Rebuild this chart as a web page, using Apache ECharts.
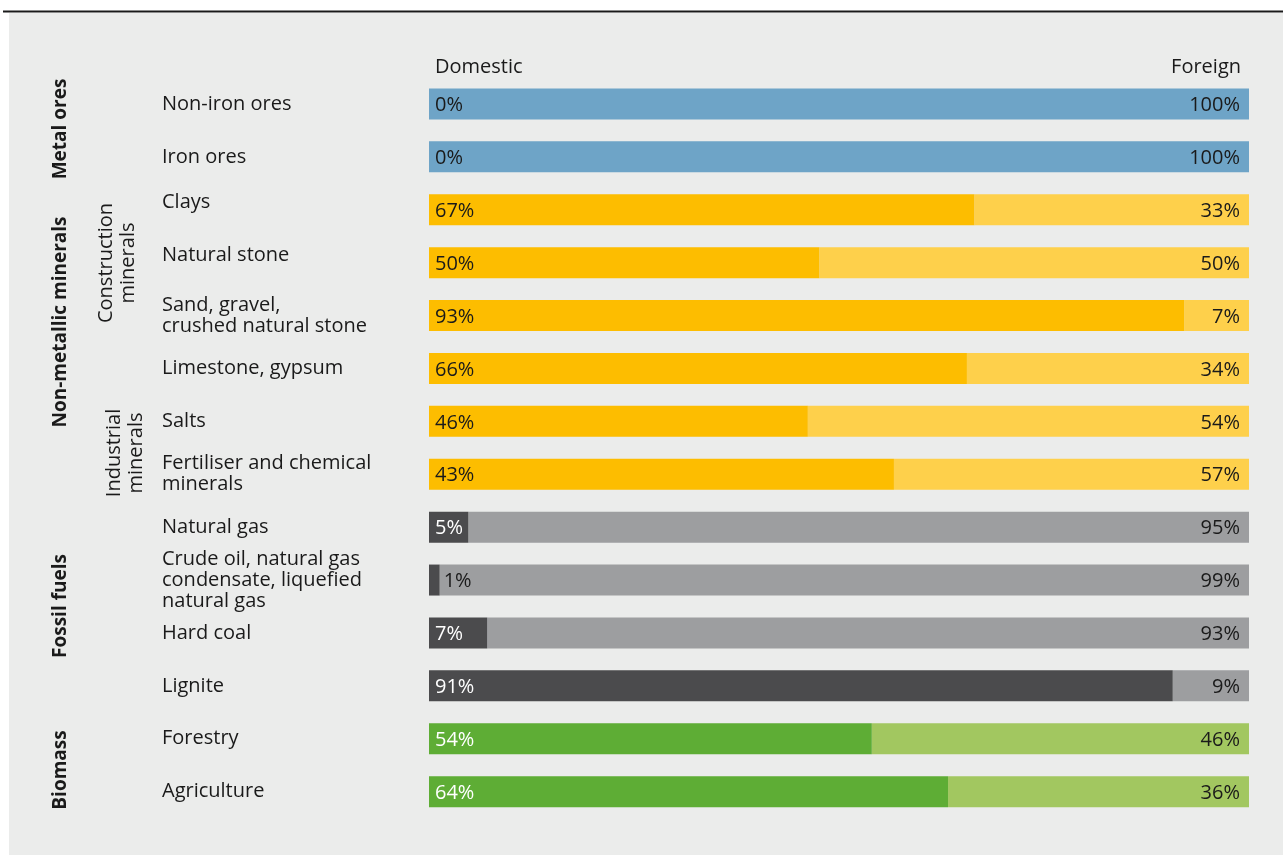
<!DOCTYPE html>
<html>
<head>
<meta charset="utf-8">
<script src="https://cdn.jsdelivr.net/npm/echarts@6/dist/echarts.min.js"></script>
<style>
html,body{margin:0;padding:0;background:#ffffff;}
#chart{width:1283px;height:856px;}
</style>
</head>
<body>
<div id="chart"></div>
<script>
// ---- data ----
var categories = [
  'Non-iron ores',
  'Iron ores',
  'Clays',
  'Natural stone',
  'Sand, gravel,\ncrushed natural stone',
  'Limestone, gypsum',
  'Salts',
  'Fertiliser and chemical\nminerals',
  'Natural gas',
  'Crude oil, natural gas\ncondensate, liquefied\nnatural gas',
  'Hard coal',
  'Lignite',
  'Forestry',
  'Agriculture'
];
var raisedLabels = ['Clays', 'Natural stone'];
var groupOf = ['metal','metal','mineral','mineral','mineral','mineral','mineral','mineral','fossil','fossil','fossil','fossil','biomass','biomass'];
// bar lengths as drawn in the picture (domestic share, %)
var domesticBar = [0, 0, 66.5, 47.6, 92.1, 65.6, 46.2, 56.7, 4.8, 1.3, 7.1, 90.7, 54.0, 63.3];
// printed labels
var domesticLabel = [0, 0, 67, 50, 93, 66, 46, 43, 5, 1, 7, 91, 54, 64];
var foreignLabel = [100, 100, 33, 50, 7, 34, 54, 57, 95, 99, 93, 9, 46, 36];
var headerLeft = 'Domestic';
var headerRight = 'Foreign';
var groupLabels = ['Metal ores', 'Non-metallic minerals', 'Fossil fuels', 'Biomass'];
var subGroupLabels = ['Construction\nminerals', 'Industrial\nminerals'];

// ---- styles ----
var palette = {
  metal:   {dom: '#6EA4C7', for: '#6EA4C7', domText: '#1a1a1a'},
  mineral: {dom: '#FDBD00', for: '#FED04B', domText: '#1a1a1a'},
  fossil:  {dom: '#4B4B4D', for: '#9D9EA0', domText: '#ffffff'},
  biomass: {dom: '#5EAD35', for: '#A2C760', domText: '#ffffff'}
};
var FONT = '"Open Sans", "Noto Sans", sans-serif';
var TXT = '#1a1a1a';

var domData = domesticBar.map(function (v, i) {
  var p = palette[groupOf[i]];
  var item = {
    value: v,
    itemStyle: {color: p.dom},
    label: {color: p.domText}
  };
  if (domesticLabel[i] === 1) {
    item.label = {position: 'right', distance: 4, color: TXT};
  }
  return item;
});
var forData = domesticBar.map(function (v, i) {
  var p = palette[groupOf[i]];
  return {value: 100 - v, itemStyle: {color: p.for}};
});

var chart = echarts.init(document.getElementById('chart'), null, {renderer: 'canvas'});

var option = {
  animation: false,
  backgroundColor: '#ffffff',
  textStyle: {fontFamily: FONT},
  grid: {left: 429, right: 34, top: 77.5, height: 740.6, containLabel: false},
  xAxis: {
    type: 'value', min: 0, max: 100,
    axisLabel: {show: false}, axisLine: {show: false}, axisTick: {show: false}, splitLine: {show: false}
  },
  yAxis: {
    type: 'category', inverse: true, data: categories,
    axisLine: {show: false}, axisTick: {show: false},
    axisLabel: {
      align: 'left', margin: 267, fontSize: 20, lineHeight: 21,
      color: TXT, fontFamily: FONT,
      formatter: function (v) {
        return raisedLabels.indexOf(v) >= 0 ? '{up|' + v + '}' : v;
      },
      rich: {
        up: {fontSize: 20, lineHeight: 21, color: TXT, fontFamily: FONT, padding: [0, 0, 15, 0]}
      }
    }
  },
  graphic: [
    {type: 'rect', z: -10, silent: true, shape: {x: 9, y: 13, width: 1274, height: 842}, style: {fill: '#EBECEB'}},
    {type: 'rect', z: -9, silent: true, shape: {x: 3, y: 10.5, width: 1280, height: 2}, style: {fill: '#1a1a1a'}},
    {type: 'text', x: 435, y: 67, style: {text: headerLeft, fontSize: 20, fontFamily: FONT, fill: TXT, textAlign: 'left', textVerticalAlign: 'middle'}},
    {type: 'text', x: 1241, y: 67, style: {text: headerRight, fontSize: 20, fontFamily: FONT, fill: TXT, textAlign: 'right', textVerticalAlign: 'middle'}},
    {type: 'text', x: 61, y: 129, rotation: Math.PI / 2, style: {text: groupLabels[0], fontSize: 19, fontWeight: 'bold', fontFamily: FONT, fill: TXT, textAlign: 'center', textVerticalAlign: 'middle'}},
    {type: 'text', x: 61, y: 322, rotation: Math.PI / 2, style: {text: groupLabels[1], fontSize: 19, fontWeight: 'bold', fontFamily: FONT, fill: TXT, textAlign: 'center', textVerticalAlign: 'middle'}},
    {type: 'text', x: 61, y: 606, rotation: Math.PI / 2, style: {text: groupLabels[2], fontSize: 19, fontWeight: 'bold', fontFamily: FONT, fill: TXT, textAlign: 'center', textVerticalAlign: 'middle'}},
    {type: 'text', x: 61, y: 770, rotation: Math.PI / 2, style: {text: groupLabels[3], fontSize: 19, fontWeight: 'bold', fontFamily: FONT, fill: TXT, textAlign: 'center', textVerticalAlign: 'middle'}},
    {type: 'text', x: 117, y: 263, rotation: Math.PI / 2, style: {text: subGroupLabels[0], fontSize: 20, lineHeight: 22, fontFamily: FONT, fill: TXT, textAlign: 'center', textVerticalAlign: 'middle'}},
    {type: 'text', x: 125, y: 453, rotation: Math.PI / 2, style: {text: subGroupLabels[1], fontSize: 20, lineHeight: 22, fontFamily: FONT, fill: TXT, textAlign: 'center', textVerticalAlign: 'middle'}}
  ],
  series: [
    {
      name: 'Domestic', type: 'bar', stack: 's', barWidth: 31, z: 3,
      data: domData,
      label: {
        show: true, position: 'insideLeft', distance: 6, fontSize: 20, fontFamily: FONT, offset: [0, 1.5],
        formatter: function (p) { return domesticLabel[p.dataIndex] + '%'; }
      }
    },
    {
      name: 'Foreign', type: 'bar', stack: 's', barWidth: 31, z: 2,
      data: forData,
      label: {
        show: true, position: 'insideRight', distance: 9, fontSize: 20, fontFamily: FONT, color: TXT, offset: [0, 1.5],
        formatter: function (p) { return foreignLabel[p.dataIndex] + '%'; }
      }
    }
  ]
};
chart.setOption(option);
</script>
</body>
</html>
